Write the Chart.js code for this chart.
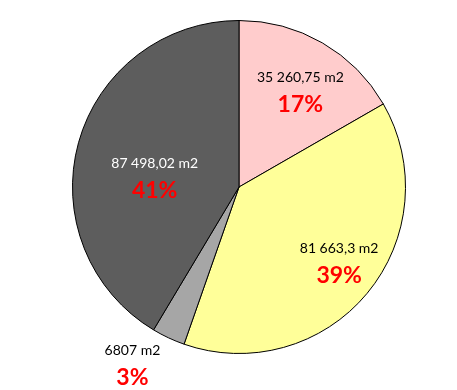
<!DOCTYPE html>
<html>
<head>
<meta charset="utf-8">
<script src="https://cdn.jsdelivr.net/npm/chart.js@4/dist/chart.umd.min.js"></script>
<style>
html,body{margin:0;padding:0;background:#fff;}
canvas{display:block;}
</style>
</head>
<body>
<canvas id="c" width="457" height="390"></canvas>
<script>
const categories = ["A", "B", "C", "D"];
const areaValues = [35260.75, 81663.3, 6807, 87498.02];
const valueLabels = ["35 260,75 m2", "81 663,3 m2", "6807 m2", "87 498,02 m2"];
const sliceColors = ["#FFCCCC", "#FFFF99", "#A6A6A6", "#5D5D5D"];
const valueTextColors = ["#000000", "#000000", "#000000", "#FFFFFF"];
// label placement: radius factor and angle offset (deg) relative to slice mid-angle
const labelRadius = [0.685, 0.75, 1.24, 0.51];
const labelAngleShift = [2.5, -3, 6, -8.5];

const labelPlugin = {
  id: 'sliceLabels',
  afterDatasetsDraw(chart) {
    const ctx = chart.ctx;
    const meta = chart.getDatasetMeta(0);
    const total = areaValues.reduce((a, b) => a + b, 0);
    meta.data.forEach((arc, i) => {
      const p = arc.getProps(['x', 'y', 'startAngle', 'endAngle', 'outerRadius'], true);
      const mid = (p.startAngle + p.endAngle) / 2 + labelAngleShift[i] * Math.PI / 180;
      const r = p.outerRadius * labelRadius[i];
      const cx = p.x + Math.cos(mid) * r;
      const cy = p.y + Math.sin(mid) * r;
      ctx.save();
      ctx.textAlign = 'center';
      ctx.textBaseline = 'middle';
      ctx.font = '14px Lato, "Open Sans", sans-serif';
      ctx.fillStyle = valueTextColors[i];
      ctx.fillText(valueLabels[i], cx, cy - 13);
      ctx.font = 'bold 23px Lato, "Open Sans", sans-serif';
      ctx.fillStyle = '#FF0000';
      const pct = Math.round(areaValues[i] / total * 100) + '%';
      ctx.fillText(pct, cx, cy + 14);
      ctx.restore();
    });
  }
};

new Chart(document.getElementById('c'), {
  type: 'pie',
  data: {
    labels: categories,
    datasets: [{
      data: areaValues,
      backgroundColor: sliceColors,
      borderColor: '#000000',
      borderWidth: 1
    }]
  },
  options: {
    responsive: false,
    animation: false,
    layout: { padding: { left: 72, right: 51, top: 20, bottom: 36 } },
    plugins: { legend: { display: false }, tooltip: { enabled: false } }
  },
  plugins: [labelPlugin]
});
</script>
</body>
</html>
